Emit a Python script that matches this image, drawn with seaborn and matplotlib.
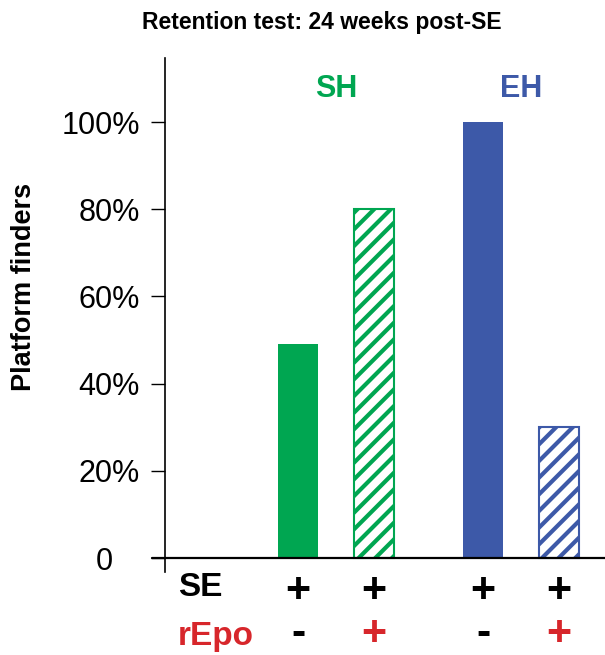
import matplotlib
matplotlib.use("Agg")
import matplotlib.pyplot as plt
import matplotlib.transforms as mtransforms
import seaborn as sns
import pandas as pd

# data
groups = ["SH", "SH", "EH", "EH"]
repo = ["-", "+", "-", "+"]
se = ["+", "+", "+", "+"]
finders = [49, 80, 100, 30]
yticks = [0, 20, 40, 60, 80, 100]
ytick_labels = ["0", "20%", "40%", "60%", "80%", "100%"]
title = "Retention test: 24 weeks post-SE"

group_colors = {"SH": "#00A651", "EH": "#3D59A8"}
red = "#D7262B"

sns.set_theme(style="white")
plt.rcParams["font.family"] = ["Liberation Sans", "DejaVu Sans"]
plt.rcParams["text.color"] = "black"
plt.rcParams["hatch.linewidth"] = 3.0

df = pd.DataFrame({"group": groups, "rEpo": repo, "SE": se, "finders": finders})

W, H = 605, 655
fig = plt.figure(figsize=(W / 100, H / 100), dpi=100)
ax = fig.add_axes([165 / W, 1 - 572 / H, 440 / W, (572 - 58) / H])

sns.barplot(data=df, x="group", y="finders", hue="rEpo", order=["SH", "EH"],
            hue_order=["-", "+"], width=0.82, gap=0.47, saturation=1,
            legend=False, ax=ax)

# solid bars for rEpo -, hatched for rEpo +
centers = []
for container, level in zip(ax.containers, ["-", "+"]):
    for bar, g in zip(container, ["SH", "EH"]):
        c = group_colors[g]
        if level == "-":
            bar.set_facecolor(c)
            bar.set_edgecolor(c)
            bar.set_linewidth(0)
        else:
            bar.set_facecolor("white")
            bar.set_edgecolor(c)
            bar.set_hatch("//")
            bar.set_linewidth(1.5)
        centers.append((bar.get_x() + bar.get_width() / 2, level))

ax.set_xlim(-0.923, 1.452)
ax.set_ylim(-3.2, 114.7)
for s in ["top", "right", "bottom"]:
    ax.spines[s].set_visible(False)
ax.spines["left"].set_color("black")
ax.spines["left"].set_linewidth(1.2)
ax.axhline(0, xmin=-13 / 440, xmax=1, color="black", lw=1.6, clip_on=False)

ax.set_xticks([])
ax.set_xlabel("")
ax.set_ylabel("")
ax.set_yticks(yticks, ytick_labels)
ax.tick_params(axis="y", left=True, length=10, width=1, direction="out",
               pad=8, labelsize=22, colors="black")
# the "0" label sits further left in the original
lab0 = ax.get_yticklabels()[0]
lab0.set_transform(lab0.get_transform() + mtransforms.ScaledTranslation(-27 / 100, 0, fig.dpi_scale_trans))

fig.text(322 / W, 1 - 22 / H, title, ha="center", va="center",
         fontsize=16.5, fontweight="bold", color="black")
fig.text(24.5 / W, 1 - 287 / H, "Platform finders", rotation=90,
         ha="center", va="center", fontsize=19.5, fontweight="bold",
         color="black")

trans = mtransforms.blended_transform_factory(ax.transData, fig.transFigure)
for i, g in enumerate(["SH", "EH"]):
    ax.text(i, 1 - 89 / H, g, transform=trans, ha="center", va="center",
            fontsize=22, fontweight="bold", color=group_colors[g])

fig.text(178 / W, 1 - 588 / H, "SE", ha="left", va="center",
         fontsize=24, fontweight="bold", color="black")
fig.text(178 / W, 1 - 636 / H, "rEpo", ha="left", va="center",
         fontsize=24, fontweight="bold", color=red)

centers.sort()
for x, level in centers:
    ax.text(x, 1 - 591 / H, "+", transform=trans, ha="center", va="center",
            fontsize=31, fontweight="bold", color="black")
    ax.text(x, 1 - 634 / H, level, transform=trans, ha="center", va="center",
            fontsize=31, fontweight="bold",
            color=red if level == "+" else "black")

fig.savefig("out.png", dpi=100)
